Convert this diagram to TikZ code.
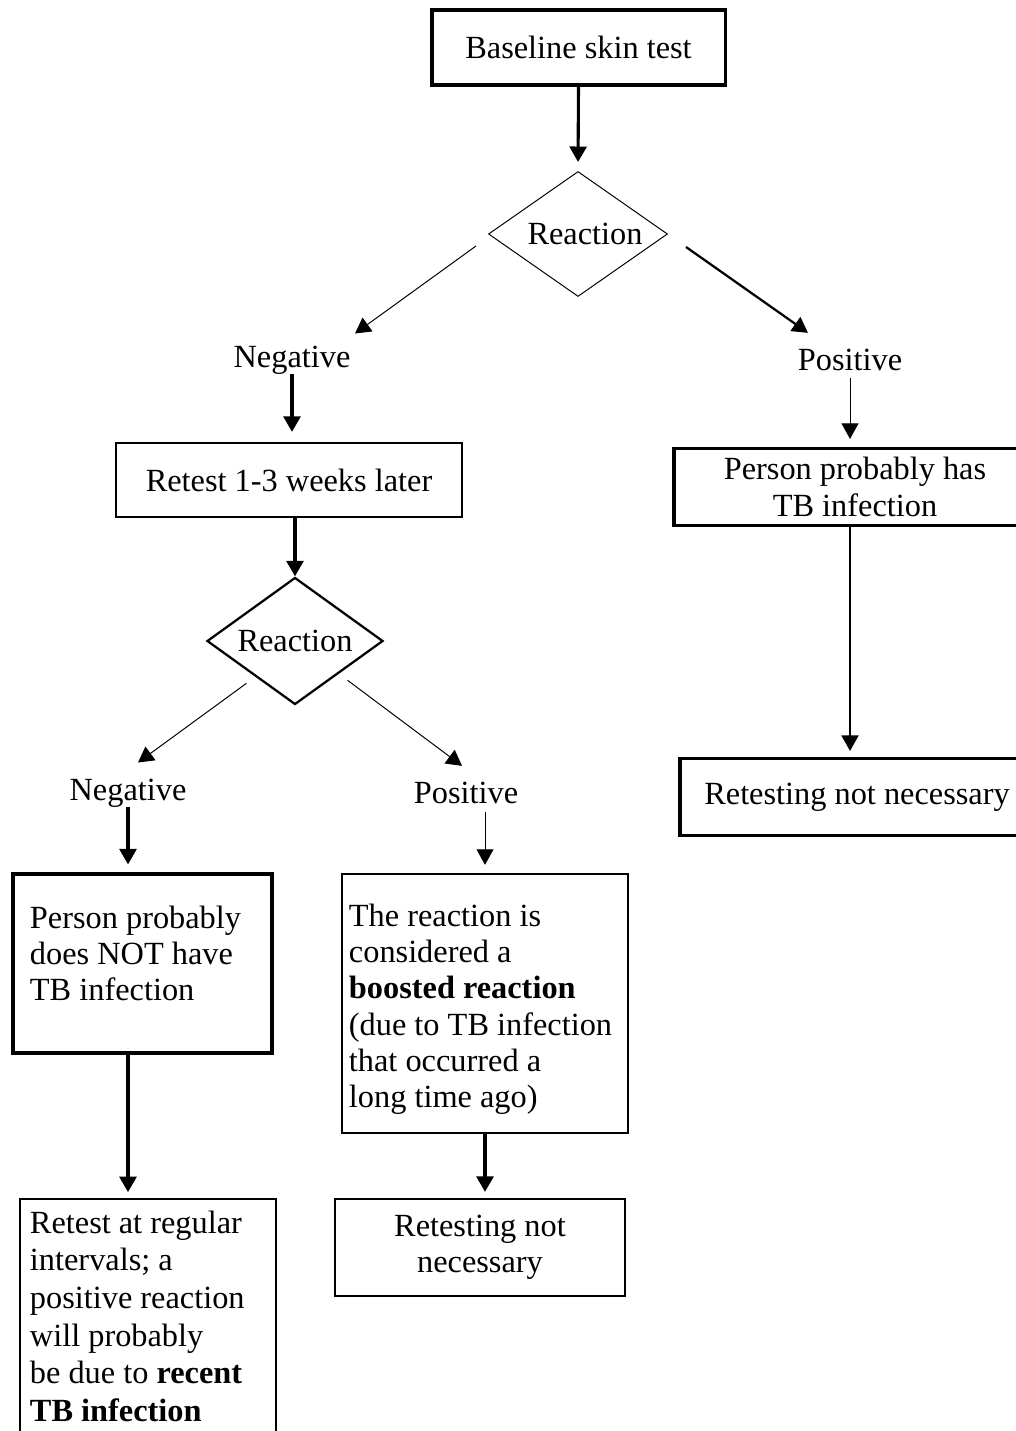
\documentclass[tikz,border=0pt]{standalone}
\usepackage{fontspec}
\setmainfont{Liberation Serif}
\usetikzlibrary{arrows.meta,shapes.geometric,calc}
\newcommand\tbox[5]{\parbox[c][#2][t]{#1}{\vspace*{#4}\raggedright\leftskip=#3\relax #5\par}}
\begin{document}
\begin{tikzpicture}[x=0.025cm,y=-0.025cm,
  every node/.style={font=\fontsize{23}{25.8}\selectfont, inner sep=0pt},
  box/.style={draw, rectangle, align=center},
  dia/.style={draw, diamond, aspect=1.43},
  arr/.style={-{Triangle[length=11pt,width=12pt]}},
  wthick/.style={line width=2.2pt},
  wmid/.style={line width=1.6pt},
  wthin/.style={line width=0.7pt}]
\fill[white] (0,0) rectangle (1016,1431);
\useasboundingbox (0,0) rectangle (1016,1431);

% nodes
\node[box, wthick, minimum width=7.325cm, minimum height=1.875cm] (base) at (578.5,47.5) {Baseline skin test};
\node[dia, wthin, minimum width=4.475cm, minimum height=3.125cm] (d1) at (578,234) {\hspace*{0.35cm}Reaction};
\node (neg1) at (292,360) {Negative};
\node (pos1) at (850,360) {Positive};
\node[box, wmid, minimum width=8.65cm, minimum height=1.85cm] (retest) at (289,480) {Retest 1-3 weeks later};
\node[box, wthick, minimum width=9.05cm, minimum height=1.925cm] (has) at (855,487) {Person probably has\\TB infection};
\node[box, wthick, minimum width=8.85cm, minimum height=1.925cm] (retnn1) at (857,797) {Retesting not necessary};
\node[dia, wmid, minimum width=4.4cm, minimum height=3.175cm] (d2) at (295,641) {Reaction};
\node (neg2) at (128,793) {Negative};
\node (pos2) at (466,793) {Positive};
\node[draw, wthick, minimum width=6.475cm, minimum height=4.475cm] (notbox) at (142.5,963.5)
  {\tbox{6.475cm}{4.475cm}{0.425cm}{0.8cm}{Person probably\\does NOT have\\TB infection}};
\node[draw, wmid, minimum width=7.15cm, minimum height=6.475cm] (boosted) at (485,1003.5)
  {\tbox{7.15cm}{6.475cm}{0.175cm}{0.75cm}{The reaction is\\considered a\\\textbf{boosted reaction}\\(due to TB infection\\that occurred a\\long time ago)}};
\node[box, wmid, minimum width=7.25cm, minimum height=2.425cm] (retnn2) at (480,1247.5) {Retesting not\\necessary};
\node[draw, line width=1.2pt, minimum width=6.4cm, minimum height=6.55cm] (recent) at (148,1330)
  {\tbox{6.4cm}{6.55cm}{0.25cm}{0.3cm}{\fontsize{23}{26.7}\selectfont Retest at regular\\intervals; a\\positive reaction\\will probably\\be due to \textbf{recent}\\\textbf{TB infection}}};

% connectors
\draw[wthick, arr, shorten >=0.225cm] (base.south) -- (d1.north);
\draw[wthin, arr] ($(d1.west)+(-12,12)$) -- ($(neg1.north)+(63,-12)$);
\draw[wmid, arr] ($(d1.east)+(18,13)$) -- ($(pos1.north)+(-42,-16)$);
\draw[wthick, arr, shorten >=0.25cm] (neg1.south) -- (neg1.south |- retest.north);
\draw[wthin, arr, shorten >=0.2cm] ($(pos1.south)+(0,7)$) -- (pos1.south |- has.north);
\draw[wmid, arr, shorten >=0.15cm] (pos1.south |- has.south) -- (pos1.south |- retnn1.north);
\draw[wthick, arr] (d2.north |- retest.south) -- (d2.north);
\draw[wthin, arr] ($(d2.south west)+(-4,10)$) -- ($(neg2.north)+(10,-16)$);
\draw[wthin, arr] ($(d2.south east)+(8,7)$) -- ($(pos2.north)+(-4,-16)$);
\draw[wthick, arr, shorten >=0.2cm] (neg2.south) -- (neg2.south |- notbox.north);
\draw[wthick, arr, shorten >=0.15cm] (neg2.south |- notbox.south) -- (neg2.south |- recent.north);
\draw[wthin, arr, shorten >=0.2cm] ($(boosted.north |- pos2.south)+(0,8)$) -- (boosted.north);
\draw[wthick, arr, shorten >=0.15cm] (boosted.south) -- (boosted.south |- retnn2.north);
\end{tikzpicture}
\end{document}
